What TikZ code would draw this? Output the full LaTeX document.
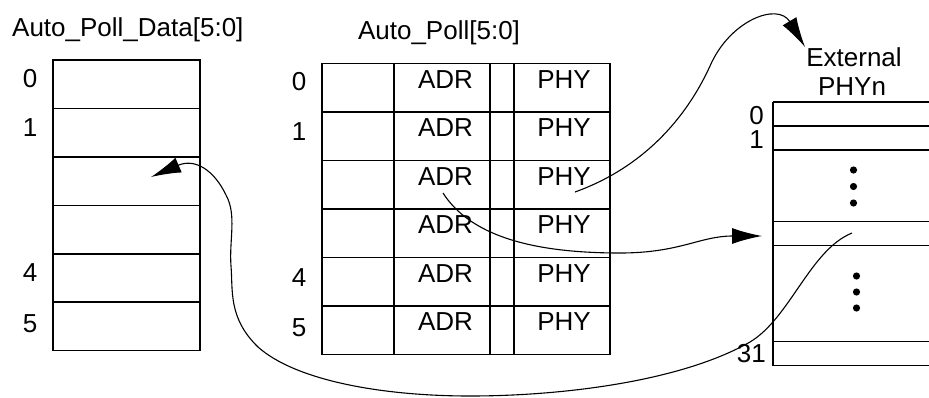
\documentclass[tikz,border=0pt]{standalone}
\usepackage{fontspec}
\setmainfont{Liberation Sans}
\usetikzlibrary{arrows.meta}
\begin{document}
\begin{tikzpicture}[x=1pt,y=-1pt,
  lbl/.style={font=\fontsize{26}{30}\selectfont, inner sep=0pt, anchor=base},
  boxline/.style={line width=1.4pt},
  curve/.style={line width=1.1pt},
  bigtip/.style={-{Latex[length=30pt,width=16pt]}},
  dot/.style={fill=black}]
\useasboundingbox (0,0) rectangle (929,397);
% titles
\node[lbl, anchor=base west] (t1) at (12,36.5) {Auto\_Poll\_Data[5:0]};
\node[lbl] (t2) at (439,39) {Auto\_Poll[5:0]};
\node[lbl] (t3) at (854,66.5) {External};
\node[lbl] (t4) at (852,95) {PHYn};
% left box
\draw[boxline] (53,60) rectangle (200,350.5);
\foreach \yy in {108.5,157,205.5,254,302} \draw[boxline] (53,\yy) -- (200,\yy);
\node[lbl] (l0) at (30,87) {0};
\node[lbl] (l1) at (30,136.5) {1};
\node[lbl] (l4) at (30,281.5) {4};
\node[lbl] (l5) at (30,332) {5};
% middle table
\draw[boxline] (322,63.5) rectangle (610,354.5);
\foreach \xx in {394,490,514} \draw[boxline] (\xx,63.5) -- (\xx,354.5);
\foreach \yy in {112,160.5,209,257.5,306} \draw[boxline] (322,\yy) -- (610,\yy);
\node[lbl] (m0) at (299,90) {0};
\node[lbl] (m1) at (299,140) {1};
\node[lbl] (m4) at (299,286.5) {4};
\node[lbl] (m5) at (299,336.5) {5};
\foreach \i/\yy in {0/88.3,1/136.8,2/185.3,3/233.8,4/282.3,5/330.8}{
  \node[lbl] (adr\i) at (445.5,\yy) {ADR};
  \node[lbl] (phy\i) at (564,\yy) {PHY};
}
% external PHY
\draw[boxline] (773,102) -- (773,365.7);
\foreach \yy in {102,126,150,221.7,245.7,341.7,365.7} \draw[boxline] (773,\yy) -- (929,\yy);
\node[lbl, anchor=base east] (e0) at (764,124) {0};
\node[lbl, anchor=base east] (e1) at (764,148.3) {1};
\node[lbl, anchor=base east] (e31) at (766,362.7) {31};
\foreach \yy in {170,186.5,203} \fill[dot] (853.5,\yy) circle (3.6pt);
\foreach \yy in {276,292,308} \fill[dot] (856.5,\yy) circle (3.6pt);
% connector end points
\coordinate (s1) at (575,192);
\coordinate (e1t) at (805,47);
\coordinate (s2) at (443,193);
\coordinate (e2t) at (762,236);
\coordinate (s3) at (852,233);
\coordinate (e3t) at (151,177);
% connectors
\draw[curve, bigtip] (s1) .. controls (650,165) and (690,110) .. (710,66)
   .. controls (730,20) and (778,2) .. (e1t);
\draw[curve, bigtip] (s2) .. controls (470,235) and (530,253) .. (620,253)
   .. controls (680,253) and (700,236) .. (e2t);
\draw[curve, bigtip] (s3) .. controls (810,250) and (790,318) .. (750,342)
   .. controls (680,382) and (560,396) .. (470,396)
   .. controls (380,396) and (295,380) .. (258,347)
   .. controls (228,318) and (233,290) .. (231,266)
   .. controls (229,240) and (237,215) .. (226,195)
   .. controls (214,170) and (195,158) .. (e3t);
\end{tikzpicture}
\end{document}
